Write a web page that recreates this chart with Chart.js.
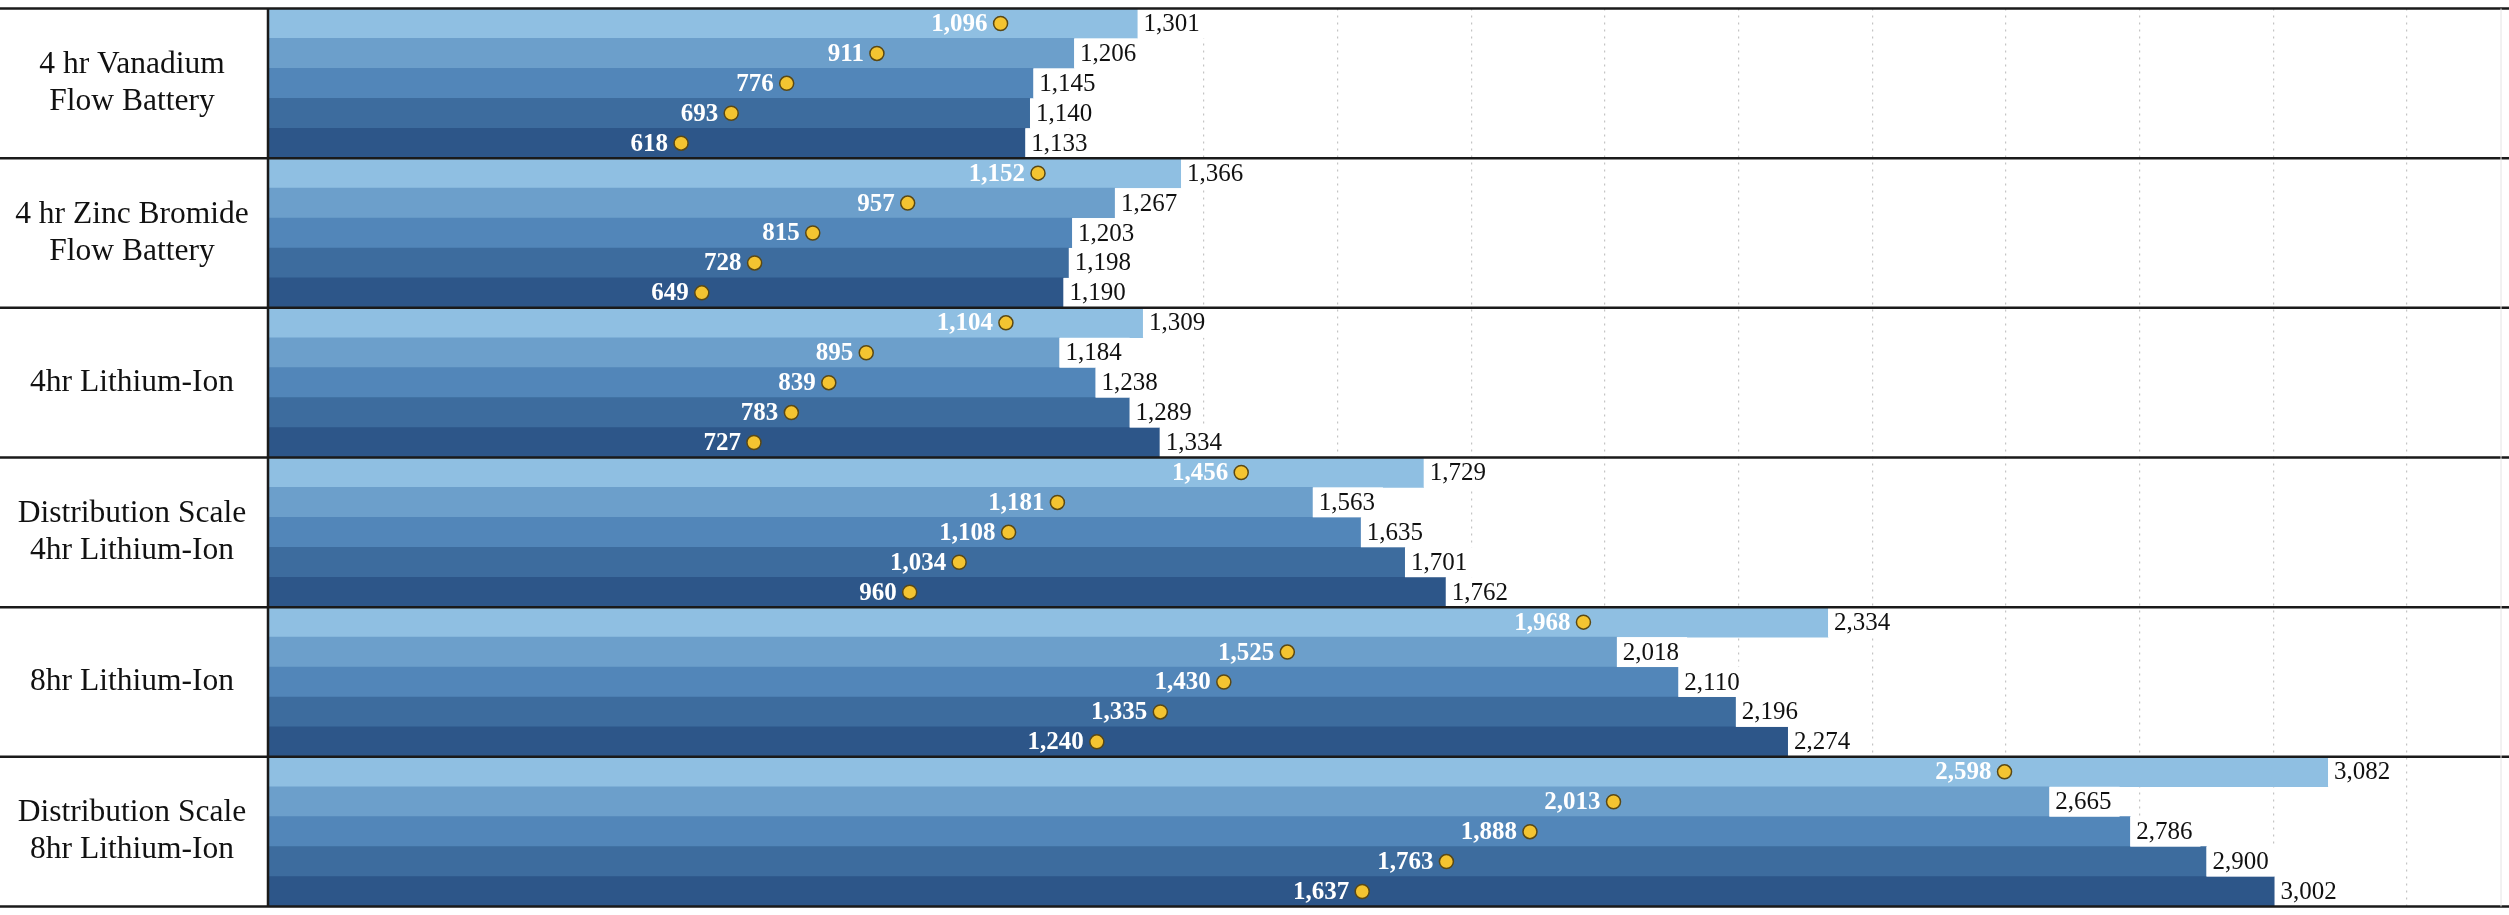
<!DOCTYPE html>
<html>
<head>
<meta charset="utf-8">
<title>Storage cost ranges</title>
<script src="https://cdn.jsdelivr.net/npm/chart.js@4.4.1/dist/chart.umd.min.js"></script>
<style>
  html, body { margin: 0; padding: 0; background: #fff; }
  #wrap { width: 2509px; height: 915px; position: relative; }
</style>
</head>
<body>
<div id="wrap"><canvas id="chart"></canvas></div>
<script>
// group names (shown in the left column)
const groups = [
  ['4 hr Vanadium', 'Flow Battery'],
  ['4 hr Zinc Bromide', 'Flow Battery'],
  ['4hr Lithium-Ion'],
  ['Distribution Scale', '4hr Lithium-Ion'],
  ['8hr Lithium-Ion'],
  ['Distribution Scale', '8hr Lithium-Ion']
];
const rowNames = ['Case 1', 'Case 2', 'Case 3', 'Case 4', 'Case 5'];

// bar end (high value) per group, top row first
const highValues = [
  [1301, 1206, 1145, 1140, 1133],
  [1366, 1267, 1203, 1198, 1190],
  [1309, 1184, 1238, 1289, 1334],
  [1729, 1563, 1635, 1701, 1762],
  [2334, 2018, 2110, 2196, 2274],
  [3082, 2665, 2786, 2900, 3002]
];
// yellow marker (low value) per group
const lowValues = [
  [1096, 911, 776, 693, 618],
  [1152, 957, 815, 728, 649],
  [1104, 895, 839, 783, 727],
  [1456, 1181, 1108, 1034, 960],
  [1968, 1525, 1430, 1335, 1240],
  [2598, 2013, 1888, 1763, 1637]
];

const rowColors = ['#8fbfe2', '#6c9fcb', '#5286b9', '#3d6c9e', '#2d5689'];

const labels = [];
const highFlat = [];
const lowFlat = [];
const barColors = [];
groups.forEach((g, gi) => {
  rowNames.forEach((r, ri) => {
    labels.push(g.join(' ') + ' - ' + r);
    highFlat.push(highValues[gi][ri]);
    lowFlat.push(lowValues[gi][ri]);
    barColors.push(rowColors[ri]);
  });
});

const fmt = v => v.toLocaleString('en-US');
const serif = '"Liberation Serif", "Times New Roman", serif';

// labels, separators and the left column
const decor = {
  id: 'decor',
  afterDatasetsDraw(chart) {
    const ctx = chart.ctx;
    const area = chart.chartArea;
    const y = chart.scales.y;
    const bars = chart.getDatasetMeta(0).data;
    const dots = chart.getDatasetMeta(1).data;
    ctx.save();
    ctx.textBaseline = 'middle';

    // high value labels on white boxes
    ctx.font = '25px ' + serif;
    bars.forEach((bar, i) => {
      const txt = fmt(highFlat[i]);
      const w = ctx.measureText(txt).width;
      ctx.fillStyle = '#fff';
      ctx.fillRect(bar.x, bar.y - bar.height / 2, w + 14, bar.height);
      ctx.fillStyle = '#111';
      ctx.textAlign = 'left';
      ctx.fillText(txt, bar.x + 6, bar.y + 1);
    });

    // low value labels left of the markers
    ctx.font = 'bold 25px ' + serif;
    ctx.fillStyle = '#fff';
    ctx.textAlign = 'right';
    dots.forEach((pt, i) => {
      ctx.fillText(fmt(lowFlat[i]), pt.x - 13, pt.y + 1);
    });

    // group names
    ctx.font = '31.5px ' + serif;
    ctx.fillStyle = '#111';
    ctx.textAlign = 'center';
    const step = 5;
    groups.forEach((g, gi) => {
      const mid = y.getPixelForValue(gi * step + 2);
      const lh = 37;
      g.forEach((line, li) => {
        ctx.fillText(line, area.left / 2 - 2, mid + (li - (g.length - 1) / 2) * lh);
      });
    });

    // separators
    ctx.strokeStyle = '#1a1a1a';
    ctx.lineWidth = 2.5;
    for (let gi = 0; gi <= groups.length; gi++) {
      let yy;
      if (gi === 0) yy = area.top;
      else if (gi === groups.length) yy = area.bottom;
      else yy = (y.getPixelForValue(gi * step - 1) + y.getPixelForValue(gi * step)) / 2;
      ctx.beginPath();
      ctx.moveTo(0, yy);
      ctx.lineTo(chart.width, yy);
      ctx.stroke();
    }
    ctx.beginPath();
    ctx.moveTo(area.left, area.top);
    ctx.lineTo(area.left, area.bottom);
    ctx.stroke();

    // faint right edge
    ctx.strokeStyle = '#e4e4e4';
    ctx.lineWidth = 1;
    ctx.beginPath();
    ctx.moveTo(area.right + 0.5, area.top);
    ctx.lineTo(area.right + 0.5, area.bottom);
    ctx.stroke();
    ctx.restore();
  }
};

new Chart(document.getElementById('chart'), {
  type: 'bar',
  data: {
    labels: labels,
    datasets: [
      {
        type: 'bar',
        data: highFlat,
        backgroundColor: barColors,
        borderWidth: 0,
        barPercentage: 1,
        categoryPercentage: 1,
        order: 2
      },
      {
        type: 'line',
        indexAxis: 'y',
        data: lowFlat,
        showLine: false,
        pointRadius: 7,
        pointBackgroundColor: '#f4c431',
        pointBorderColor: '#5a4814',
        pointBorderWidth: 1.5,
        order: 1
      }
    ]
  },
  plugins: [decor],
  options: {
    indexAxis: 'y',
    responsive: true,
    maintainAspectRatio: false,
    animation: false,
    layout: { padding: { left: 268, top: 3, bottom: 3, right: 4 } },
    plugins: {
      legend: { display: false },
      tooltip: { enabled: false }
    },
    scales: {
      x: {
        min: 0,
        max: 3340,
        ticks: { display: false, stepSize: 200 },
        border: { display: false, dash: [2, 5] },
        grid: {
          drawTicks: false,
          color: c => (c.tick && c.tick.value % 200 === 0 && c.tick.value > 0) ? '#c4c4c4' : 'rgba(0,0,0,0)',
          lineWidth: 1.2
        }
      },
      y: {
        display: false,
        grid: { display: false }
      }
    }
  }
});
</script>
</body>
</html>
